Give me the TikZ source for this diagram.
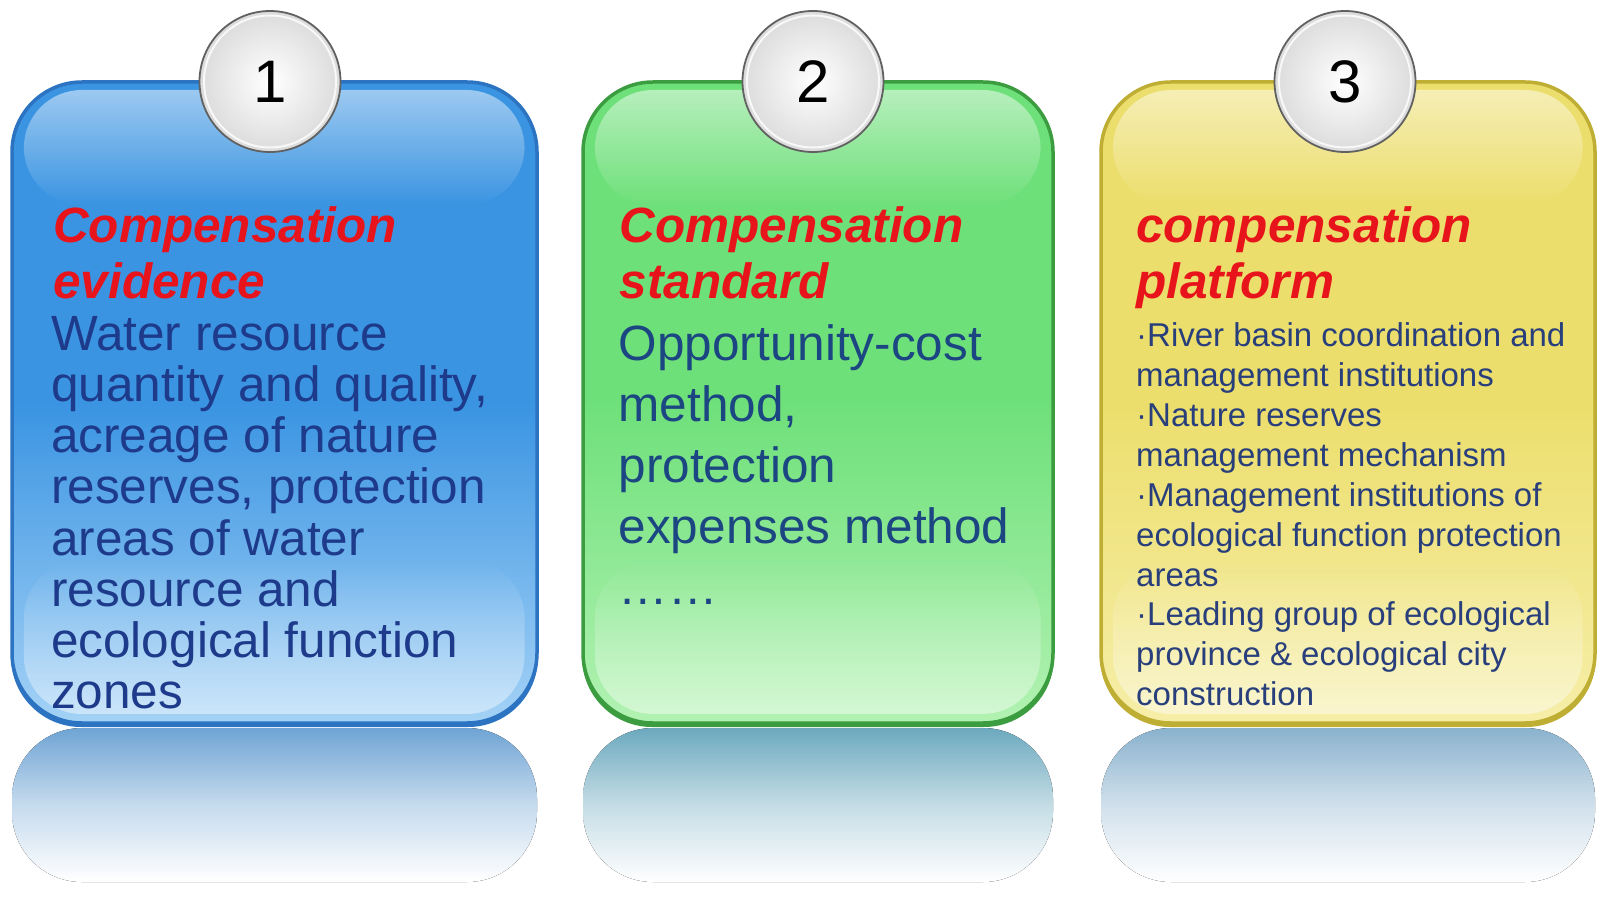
\documentclass[tikz,border=0pt]{standalone}
\usepackage{fontspec}
\setmainfont{Liberation Sans}
\usetikzlibrary{fadings}
\definecolor{titlered}{HTML}{E8141C}
\definecolor{navyA}{HTML}{1E3A8A}
\definecolor{navyB}{HTML}{1C4682}
\definecolor{navyC}{HTML}{283F7C}
\definecolor{bluemain}{HTML}{3A94E2}
\definecolor{bluelight}{HTML}{A4D2F6}
\definecolor{blueedge}{HTML}{2C74C2}
\definecolor{greenmain}{HTML}{6EE07A}
\definecolor{greenlight}{HTML}{B2F2B2}
\definecolor{greenedge}{HTML}{3C9C40}
\definecolor{yellowmain}{HTML}{ECDE6C}
\definecolor{yellowlight}{HTML}{F6EEA8}
\definecolor{yellowedge}{HTML}{BFAE34}
\definecolor{reflA}{HTML}{6FA4D4}
\definecolor{reflB}{HTML}{6CA9BE}
\definecolor{reflC}{HTML}{8AB2CE}
\tikzset{
  panel/.style={rounded corners=70pt, line width=3.5pt},
  gloss/.style={white, rounded corners=58pt, fill opacity=0.5, path fading=south},
  glow/.style={white, rounded corners=58pt, fill opacity=0.45, path fading=north},
  refl/.style={rounded corners=70pt, bottom color=white, top color=#1, middle color=#1!40!white},
  badge/.style={circle, minimum size=141pt, inner sep=0pt, draw=black!62, line width=1.8pt,
    inner color=white, outer color=black!14, font=\fontsize{60}{60}\selectfont},
  badgerim/.style={white, line width=2pt, opacity=0.8},
  titletext/.style={anchor=north west, inner sep=0pt, align=left, text=titlered,
    font=\fontsize{49.5}{56}\selectfont\bfseries\itshape},
  bodyone/.style={anchor=north west, inner sep=0pt, align=left, text=navyA,
    font=\fontsize{49.5}{51.2}\selectfont},
  bodytwo/.style={anchor=north west, inner sep=0pt, align=left, text=navyB,
    font=\fontsize{49.5}{61}\selectfont},
  bodythree/.style={anchor=north west, inner sep=0pt, align=left, text=navyC,
    font=\fontsize{33}{39.85}\selectfont}
}
\begin{document}
\begin{tikzpicture}[x=1pt,y=-1pt]
\useasboundingbox[fill=white] (0,0) rectangle (1598,909);

% reflections
\fill[refl=reflA] (12,728) rectangle (537,882);
\fill[refl=reflB] (583,728) rectangle (1053,882);
\fill[refl=reflC] (1101,728) rectangle (1595,882);

% panel 1
\fill[blueedge, rounded corners=70pt] (11,82) rectangle (538,727);
\path[panel, draw=blueedge, top color=bluemain, bottom color=bluelight, middle color=bluemain] (12,82) rectangle (537,723);
\fill[gloss] (24,90) rectangle (525,205);
\fill[glow] (24,560) rectangle (525,714);

% panel 2
\fill[greenedge, rounded corners=70pt] (582,82) rectangle (1054,727);
\path[panel, draw=greenedge, top color=greenmain, bottom color=greenlight, middle color=greenmain] (583,82) rectangle (1053,723);
\fill[gloss] (595,90) rectangle (1041,205);
\fill[glow] (595,560) rectangle (1041,714);

% panel 3
\fill[yellowedge, rounded corners=70pt] (1100,82) rectangle (1596,727);
\path[panel, draw=yellowedge, top color=yellowmain, bottom color=yellowlight, middle color=yellowmain] (1101,82) rectangle (1595,723);
\fill[gloss] (1113,90) rectangle (1583,205);
\fill[glow] (1113,560) rectangle (1583,714);

% badges
\node[badge] (c1) at (270,81.5) {1};
\node[badge] (c2) at (813,81.5) {2};
\node[badge] (c3) at (1345,81.5) {3};
\draw[badgerim] (c1.center) circle[radius=66pt];
\draw[badgerim] (c2.center) circle[radius=66pt];
\draw[badgerim] (c3.center) circle[radius=66pt];

% texts
\node[titletext] (t1) at (53,206.5) {Compensation\\evidence};
\node[bodyone] (b1) at (51,316) {Water resource\\quantity and quality,\\acreage of nature\\reserves, protection\\areas of water\\resource and\\ecological function\\zones};

\node[titletext] (t2) at (619.5,206.5) {Compensation\\standard};
\node[bodytwo] (b2) at (618.5,324.5) {Opportunity-cost\\method,\\protection\\expenses method\\……};

\node[titletext] (t3) at (1136,206.5) {compensation\\platform};
\node[bodythree] (b3) at (1136,322.8) {·River basin coordination and\\management institutions\\·Nature reserves\\management mechanism\\·Management institutions of\\ecological function protection\\areas\\·Leading group of ecological\\province \& ecological city\\construction};
\end{tikzpicture}
\end{document}
